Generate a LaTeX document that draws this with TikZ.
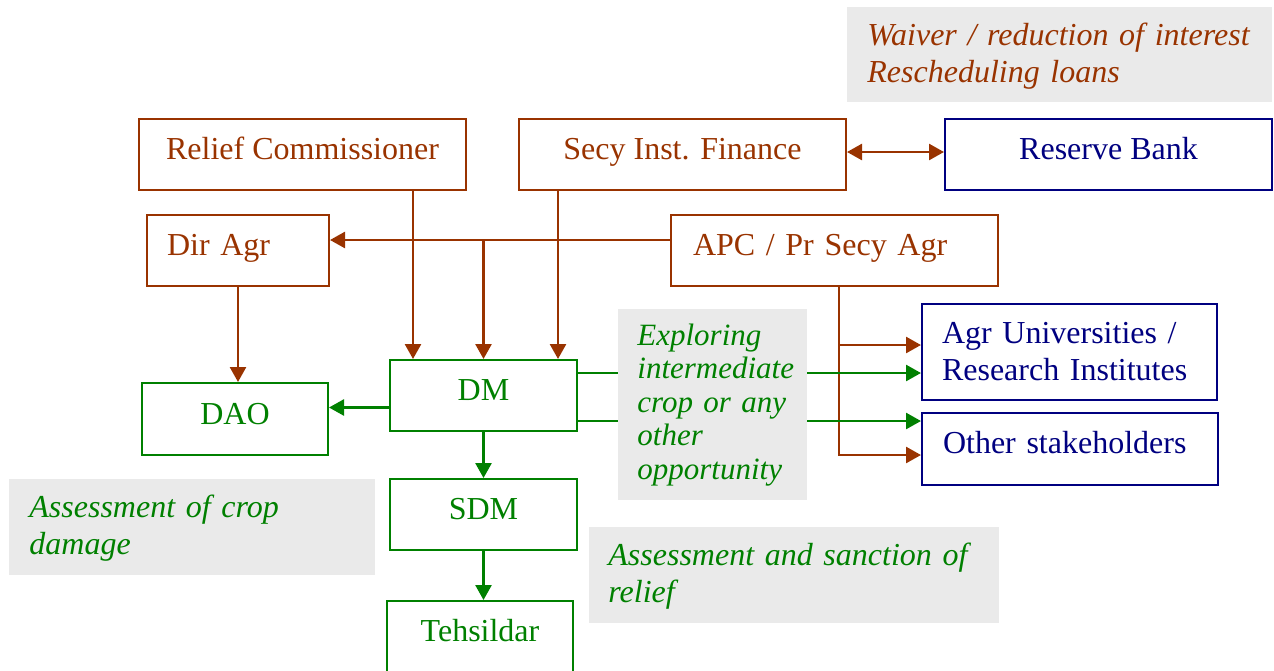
\documentclass[tikz,border=0pt]{standalone}
\usepackage{fontspec}
\setmainfont{Liberation Serif}
\usetikzlibrary{arrows.meta}
\definecolor{rust}{RGB}{153,51,0}
\definecolor{navy}{RGB}{0,0,128}
\definecolor{leaf}{RGB}{0,128,0}
\definecolor{note}{RGB}{234,234,234}

\begin{document}
\begin{tikzpicture}[x=0.5pt,y=-0.5pt,
  box/.style={draw, line width=1pt, minimum height=35.5pt, inner sep=0pt,
    text height=11pt, text depth=6pt, font=\fontsize{16}{19}\selectfont},
  brownbox/.style={box, draw=rust, text=rust},
  bluebox/.style={box, draw=navy, text=navy},
  greenbox/.style={box, draw=leaf, text=leaf},
  notebg/.style={fill=note, inner sep=0pt},
  notetext/.style={inner sep=0pt, anchor=base west, align=left,
    font=\fontsize{16}{18.5}\selectfont\itshape},
  tip/.tip={Triangle[length=7.5pt,width=8pt]},
  link/.style={line width=1.3pt, -tip},
  dlink/.style={line width=1.3pt, tip-tip},
]
\useasboundingbox (0,0) rectangle (1274,670);

% ---- offices ----
\node[brownbox, minimum width=163.5pt] (rc)  at (302.5,154.5) {Relief Commissioner};
\node[brownbox, minimum width=163.5pt] (sif) at (682.5,154.5) {Secy Inst. Finance};
\node[bluebox,  minimum width=163.5pt] (rb)  at (1108.5,154.5) {Reserve Bank};
\node[brownbox, minimum width=91pt, text width=71pt, align=left] (dir) at (238,250.5) {Dir Agr};
\node[brownbox, minimum width=163.5pt, text width=141.5pt, align=left] (apc) at (834.5,250.5) {APC / Pr Secy Agr};
\node[greenbox, minimum width=93.5pt] (dm)  at (483.5,395.5) {DM};
\node[greenbox, minimum width=93pt, minimum height=36pt] (dao) at (235,419) {DAO};
\node[greenbox, minimum width=93.5pt] (sdm) at (483.5,514.5) {SDM};
\node[greenbox, minimum width=93pt] (teh) at (480,636.5) {Tehsildar};
\node[bluebox, minimum width=147.5pt, minimum height=48pt, text width=127.5pt,
      align=left, text height={}, text depth={},
      font=\fontsize{16}{18.5}\selectfont] (agr) at (1069.5,352)
      {Agr Universities /\\Research Institutes};
\node[bluebox, minimum width=148pt, minimum height=36pt, text width=127pt,
      align=left, text depth=7pt] (oth) at (1070,449) {Other stakeholders};

% ---- helper levels for the connector runs ----
\coordinate (hApc) at (0,240);
\coordinate (xRc)  at (413,0);
\coordinate (xSif) at (558,0);
\coordinate (xApc) at (839,0);
\coordinate (yAgr) at (0,345);
\coordinate (yOth) at (0,455);
\coordinate (yDao) at (0,407.5);
\coordinate (gAgr) at (0,373);
\coordinate (gOth) at (0,421);
\coordinate (yRb)  at (0,152);

% ---- state level connectors ----
\draw[link, rust] (rc.south -| xRc) -- (dm.north -| xRc);
\draw[link, rust] (sif.south -| xSif) -- (dm.north -| xSif);
\draw[link, rust] (apc.west |- hApc) -- (dir.east |- hApc);
\draw[link, rust] (dm.north |- hApc) -- (dm.north);
\draw[link, rust] (dir.south) -- (dao.north -| dir.south);
\draw[dlink, rust] (sif.east |- yRb) -- (rb.west |- yRb);
\draw[link, rust] (apc.south -| xApc) |- (oth.west |- yOth);
\draw[link, rust] (xApc |- yAgr) -- (agr.west |- yAgr);

% ---- district level connectors ----
\draw[link, leaf] (dm.west |- yDao) -- (dao.east |- yDao);
\draw[link, leaf] (dm.south) -- (sdm.north);
\draw[link, leaf] (sdm.south) -- (teh.north -| sdm.south);
\draw[link, leaf] (dm.east |- gAgr) -- (agr.west |- gAgr);
\draw[link, leaf] (dm.east |- gOth) -- (oth.west |- gOth);

% ---- notes ----
\node[notebg, minimum width=212.5pt, minimum height=47.5pt] (waiverbg) at (1059.5,54.5) {};
\node[notetext, text=rust, text width=200pt] (waiver) at (867,45)
  {Waiver / reduction of interest\\Rescheduling loans};

\node[notebg, minimum width=94.5pt, minimum height=95.5pt] (explbg) at (712.5,404.5) {};
\node[notetext, text=leaf, text width=85pt, font=\fontsize{15.5}{16.8}\selectfont\itshape]
  (expl) at (637,345) {Exploring\\intermediate\\crop or any\\other\\opportunity};

\node[notebg, minimum width=183pt, minimum height=48pt] (cropbg) at (192,527) {};
\node[notetext, text=leaf, text width=170pt] (crop) at (29,517)
  {Assessment of crop\\damage};

\node[notebg, minimum width=205pt, minimum height=48pt] (reliefbg) at (794,575) {};
\node[notetext, text=leaf, text width=190pt] (relief) at (608,565)
  {Assessment and sanction of\\relief};
\end{tikzpicture}
\end{document}
